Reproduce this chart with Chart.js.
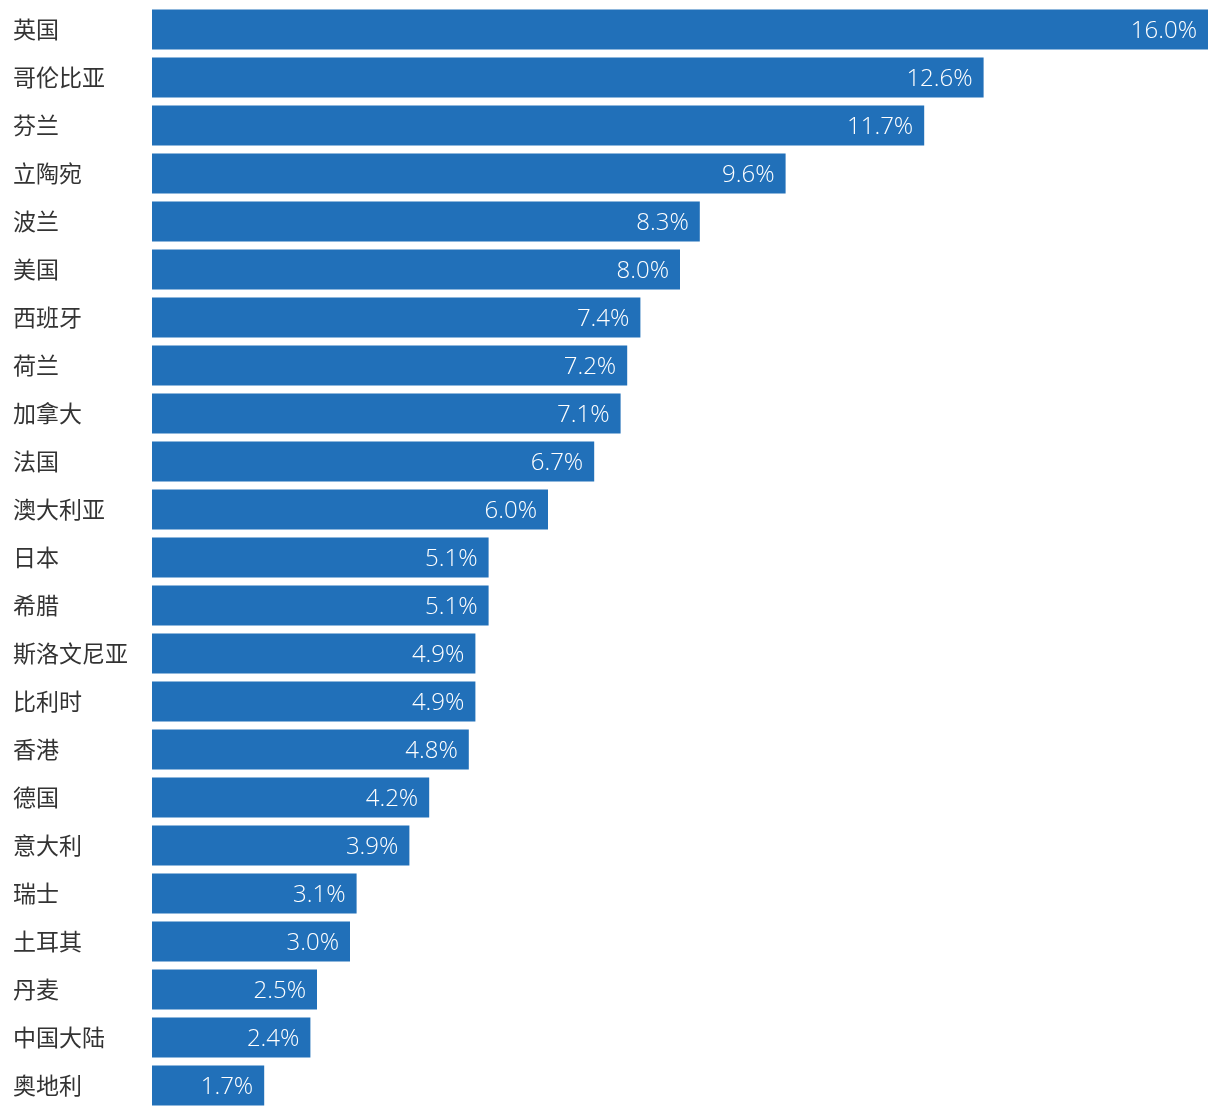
<!DOCTYPE html>
<html><head><meta charset="utf-8">
<script src="https://cdn.jsdelivr.net/npm/chart.js@4"></script>
<style>html,body{margin:0;padding:0;background:#fff;overflow:hidden}#wrap{width:1220px;height:1116px}</style>
</head><body><div id="wrap"><canvas id="c"></canvas></div>
<script>
const categories = ["英国","哥伦比亚","芬兰","立陶宛","波兰","美国","西班牙","荷兰","加拿大","法国","澳大利亚","日本","希腊","斯洛文尼亚","比利时","香港","德国","意大利","瑞士","土耳其","丹麦","中国大陆","奥地利"];
const values = [16.0,12.6,11.7,9.6,8.3,8.0,7.4,7.2,7.1,6.7,6.0,5.1,5.1,4.9,4.9,4.8,4.2,3.9,3.1,3.0,2.5,2.4,1.7];
const FONT = '"Noto Sans CJK SC", "Noto Sans", sans-serif';
const NUMFONT = '"Open Sans", Roboto, sans-serif';

const labelPlugin = {
  id: 'valueLabels',
  afterDatasetsDraw(chart) {
    const ctx = chart.ctx;
    const meta = chart.getDatasetMeta(0);
    ctx.save();
    ctx.fillStyle = '#ffffff';
    ctx.font = '300 24px ' + NUMFONT;
    ctx.textAlign = 'right';
    ctx.textBaseline = 'middle';
    meta.data.forEach((bar, i) => {
      ctx.fillText(values[i].toFixed(1) + '%', bar.x - 11, bar.y + 1.5);
    });
    ctx.restore();
  }
};

new Chart(document.getElementById('c'), {
  type: 'bar',
  data: {
    labels: categories,
    datasets: [{
      data: values,
      backgroundColor: '#2170b9',
      barPercentage: 0.833,
      categoryPercentage: 1.0
    }]
  },
  options: {
    indexAxis: 'y',
    responsive: true,
    maintainAspectRatio: false,
    animation: false,
    layout: { padding: { left: 13, right: 12, top: 5.5, bottom: 6.5 } },
    plugins: { legend: { display: false }, tooltip: { enabled: false } },
    scales: {
      x: { min: 0, max: 16, display: false },
      y: {
        grid: { display: false },
        border: { display: false },
        afterFit(scale) { scale.width = 139; scale.paddingTop = 0; scale.paddingBottom = 0; },
        ticks: {
          crossAlign: 'far',
          color: '#333333',
          font: { family: FONT, size: 23, weight: 400 }
        }
      }
    }
  },
  plugins: [labelPlugin]
});
</script></body></html>
